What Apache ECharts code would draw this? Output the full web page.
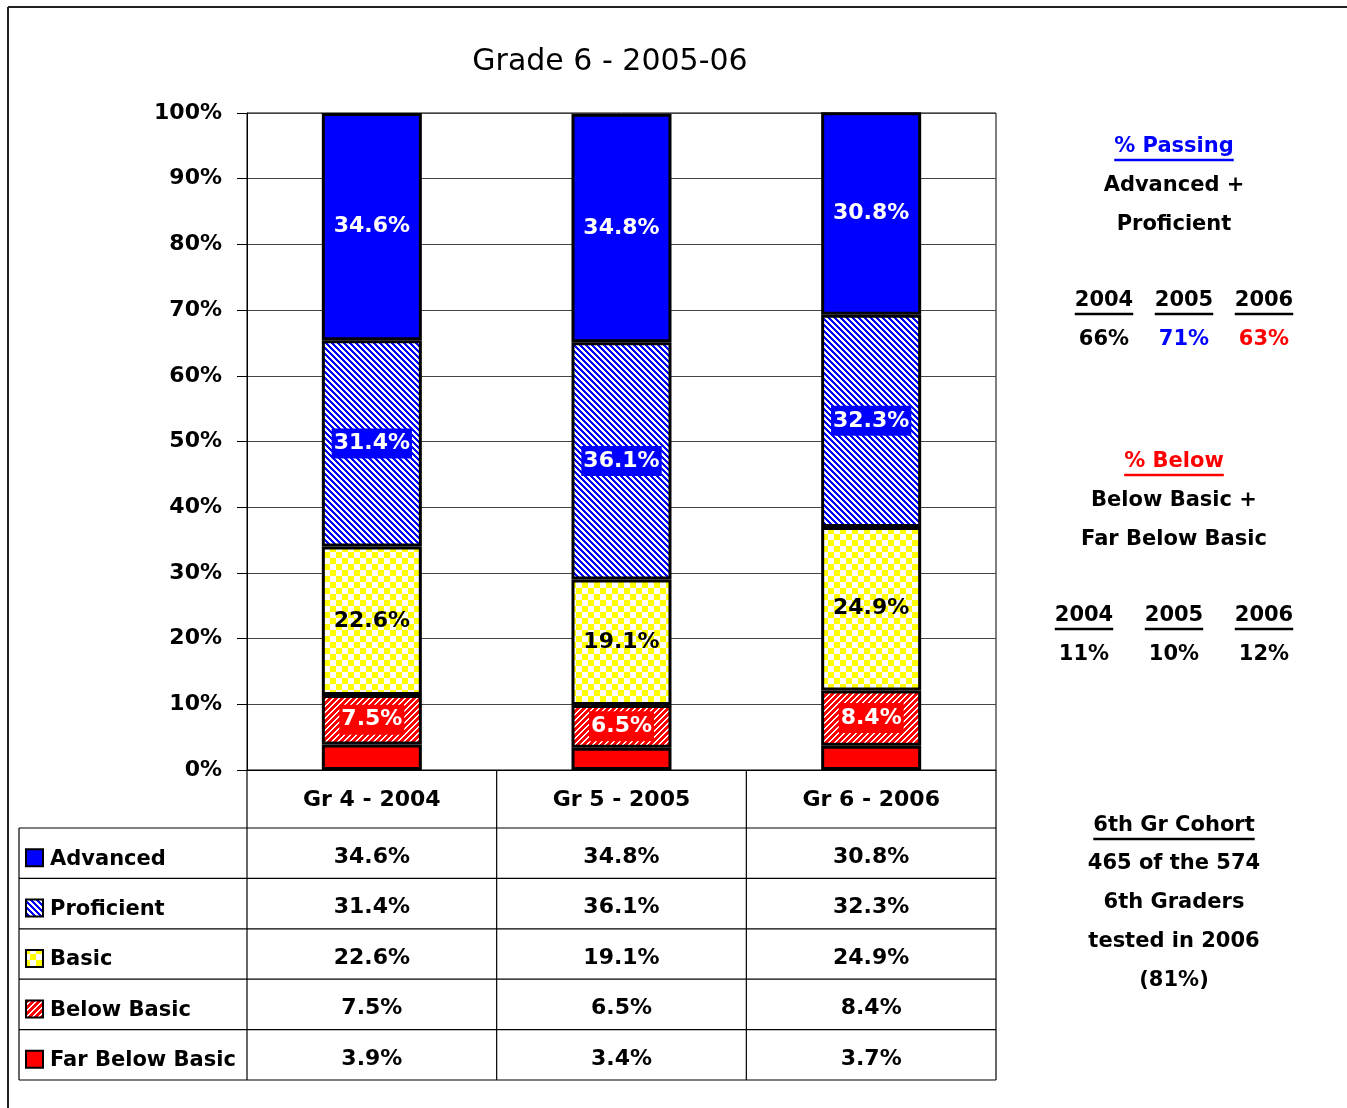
<!DOCTYPE html>
<html>
<head>
<meta charset="utf-8">
<script src="https://cdn.jsdelivr.net/npm/echarts@6/dist/echarts.min.js"></script>
<style>
  html, body { margin: 0; padding: 0; background: #fff; }
  #main { width: 1347px; height: 1108px; }
</style>
</head>
<body>
<div id="main"></div>
<script>
// data
var categories = ['Gr 4 - 2004', 'Gr 5 - 2005', 'Gr 6 - 2006'];
var levelNames = ['Advanced', 'Proficient', 'Basic', 'Below Basic', 'Far Below Basic'];
var advanced = [34.6, 34.8, 30.8];
var proficient = [31.4, 36.1, 32.3];
var basic = [22.6, 19.1, 24.9];
var belowBasic = [7.5, 6.5, 8.4];
var farBelowBasic = [3.9, 3.4, 3.7];
var yTicks = [0, 10, 20, 30, 40, 50, 60, 70, 80, 90, 100];
var years = ['2004', '2005', '2006'];
var passing = ['66%', '71%', '63%'];
var below = ['11%', '10%', '12%'];
var cohortLines = ['465 of the 574', '6th Graders', 'tested in 2006', '(81%)'];

var FONT = '"DejaVu Sans", sans-serif';

// 填充图案
function stripes(color, dir, period, on) {
    var c = document.createElement('canvas');
    c.width = period; c.height = period;
    var g = c.getContext('2d');
    g.fillStyle = '#fff';
    g.fillRect(0, 0, period, period);
    g.fillStyle = color;
    for (var x = 0; x < period; x++) {
        for (var y = 0; y < period; y++) {
            var k = dir > 0 ? (x + y) % period : ((x - y) % period + period) % period;
            if (k < on) g.fillRect(x, y, 1, 1);
        }
    }
    return { image: c, repeat: 'repeat' };
}
function checker(color, size) {
    var c = document.createElement('canvas');
    c.width = size * 2; c.height = size * 2;
    var g = c.getContext('2d');
    g.fillStyle = '#fff';
    g.fillRect(0, 0, size * 2, size * 2);
    g.fillStyle = color;
    g.fillRect(0, 0, size, size);
    g.fillRect(size, size, size, size);
    return { image: c, repeat: 'repeat' };
}

var fills = [
    '#0000ff',
    stripes('#0000ff', -1, 6, 3),
    checker('#ffff00', 6),
    stripes('#ff0000', 1, 6, 4),
    '#ff0000'
];
var seriesData = [advanced, proficient, basic, belowBasic, farBelowBasic];

var labelStyles = [
    { show: true, color: '#fff' },
    { show: true, color: '#fff', backgroundColor: '#0000ff', padding: [5, 2, 3, 2] },
    { show: true, color: '#000' },
    { show: true, color: '#fff', backgroundColor: '#ff0000', padding: [5, 2, 3, 2] },
    { show: false }
];

var series = [];
for (var s = seriesData.length - 1; s >= 0; s--) {
    var lb = labelStyles[s];
    lb.position = 'inside';
    lb.fontFamily = FONT;
    lb.fontWeight = 'bold';
    lb.fontSize = 22;
    lb.formatter = function (p) { return p.value.toFixed(1) + '%'; };
    series.push({
        name: levelNames[s],
        type: 'bar',
        stack: 'total',
        barWidth: 100,
        data: seriesData[s],
        itemStyle: { color: fills[s], borderColor: '#000', borderWidth: 3 },
        label: lb,
        emphasis: { disabled: true }
    });
}

var myChart = echarts.init(document.getElementById('main'));
option = {
    backgroundColor: '#fff',
    animation: false,
    title: {
        text: 'Grade 6 - 2005-06',
        left: 605,
        textAlign: 'center',
        top: 42,
        textStyle: { fontFamily: FONT, fontWeight: 'normal', fontSize: 30, color: '#000' }
    },
    grid: { left: 247, top: 113, right: 351, bottom: 338, show: true, borderColor: '#000', borderWidth: 1 },
    xAxis: {
        type: 'category',
        data: categories,
        axisLine: { lineStyle: { color: '#000', width: 1 } },
        axisTick: { show: false },
        axisLabel: { margin: 19, color: '#000', fontFamily: FONT, fontWeight: 'bold', fontSize: 22 }
    },
    yAxis: {
        type: 'value',
        min: yTicks[0],
        max: yTicks[yTicks.length - 1],
        interval: 10,
        axisLine: { show: true, lineStyle: { color: '#000' } },
        axisTick: { show: true, length: 10, lineStyle: { color: '#000' } },
        splitLine: { lineStyle: { color: '#444', width: 1 } },
        axisLabel: { formatter: '{value}%', margin: 25, color: '#000', fontFamily: FONT, fontWeight: 'bold', fontSize: 22 }
    },
    series: series
};
myChart.setOption(option);

// 表格和右侧文字
var mctx = document.createElement('canvas').getContext('2d');
function textW(t, size, weight) {
    mctx.font = (weight || 'bold') + ' ' + size + 'px ' + FONT;
    return mctx.measureText(t).width;
}
var g = [];
function txt(t, x, y, opt) {
    opt = opt || {};
    var size = opt.size || 22;
    g.push({
        type: 'text', x: x, y: y, silent: true,
        style: {
            text: t, fill: opt.color || '#000', font: 'bold ' + size + 'px ' + FONT,
            textAlign: opt.align || 'center', textVerticalAlign: 'middle'
        }
    });
    if (opt.underline) {
        var w = textW(t, size);
        var x0 = opt.align === 'left' ? x : x - w / 2;
        g.push({ type: 'line', silent: true, shape: { x1: x0, y1: y + size * 0.62, x2: x0 + w, y2: y + size * 0.62 },
            style: { stroke: opt.color || '#000', lineWidth: 2.5 } });
    }
}
function ln(x1, y1, x2, y2, w, c) {
    g.push({ type: 'line', silent: true, shape: { x1: x1, y1: y1, x2: x2, y2: y2 },
        style: { stroke: c || '#000', lineWidth: w || 1 } });
}

var xLeft = 247, xRight = 996, tableLeft = 19, yAxis0 = myChart.convertToPixel({ yAxisIndex: 0 }, 0);
var colX = categories.map(function (c) { return myChart.convertToPixel({ xAxisIndex: 0 }, c); });
var rowTop = 828, rowH = 50.4;

// outer frame
ln(8, 7, 1347, 7, 2, '#222');
ln(8, 7, 8, 1108, 2, '#222');

// table lines
ln(xLeft, yAxis0, xLeft, rowTop + rowH * 5, 1.2);
ln(xRight, yAxis0, xRight, rowTop + rowH * 5, 1.2);
ln((colX[0] + colX[1]) / 2, yAxis0, (colX[0] + colX[1]) / 2, rowTop + rowH * 5, 1.2);
ln((colX[1] + colX[2]) / 2, yAxis0, (colX[1] + colX[2]) / 2, rowTop + rowH * 5, 1.2);
ln(tableLeft, rowTop, tableLeft, rowTop + rowH * 5, 1.2);
for (var r = 0; r <= 5; r++) ln(tableLeft, rowTop + rowH * r, xRight, rowTop + rowH * r, 1.2);

for (var r = 0; r < 5; r++) {
    var cy = rowTop + rowH * r + rowH / 2 + 6;
    g.push({ type: 'rect', silent: true, shape: { x: 26, y: cy - 10, width: 17, height: 17 },
        style: { fill: fills[r], stroke: '#000', lineWidth: 2 } });
    txt(levelNames[r], 50, cy, { align: 'left', size: 21 });
    for (var c = 0; c < categories.length; c++) {
        txt(seriesData[r][c].toFixed(1) + '%', colX[c], cy - 2);
    }
}

// right panel
var px = 1174, dy = 3;
txt('% Passing', px, 144 + dy, { color: '#0000ff', underline: true, size: 21 });
txt('Advanced +', px, 183 + dy, { size: 21 });
txt('Proficient', px, 222 + dy, { size: 21 });
var yx1 = [1104, 1184, 1264];
var passColors = ['#000', '#0000ff', '#ff0000'];
for (var i = 0; i < years.length; i++) {
    txt(years[i], yx1[i], 298 + dy, { underline: true, size: 21 });
    txt(passing[i], yx1[i], 337 + dy, { color: passColors[i], size: 21 });
}
txt('% Below', px, 459 + dy, { color: '#ff0000', underline: true, size: 21 });
txt('Below Basic +', px, 498 + dy, { size: 21 });
txt('Far Below Basic', px, 537 + dy, { size: 21 });
var yx2 = [1084, 1174, 1264];
for (var i = 0; i < years.length; i++) {
    txt(years[i], yx2[i], 613 + dy, { underline: true, size: 21 });
    txt(below[i], yx2[i], 652 + dy, { size: 21 });
}
txt('6th Gr Cohort', px, 823 + dy, { underline: true, size: 21 });
for (var i = 0; i < cohortLines.length; i++) {
    txt(cohortLines[i], px, 861 + dy + i * 38.7, { size: 21 });
}

myChart.setOption({ graphic: g });
</script>
</body>
</html>
